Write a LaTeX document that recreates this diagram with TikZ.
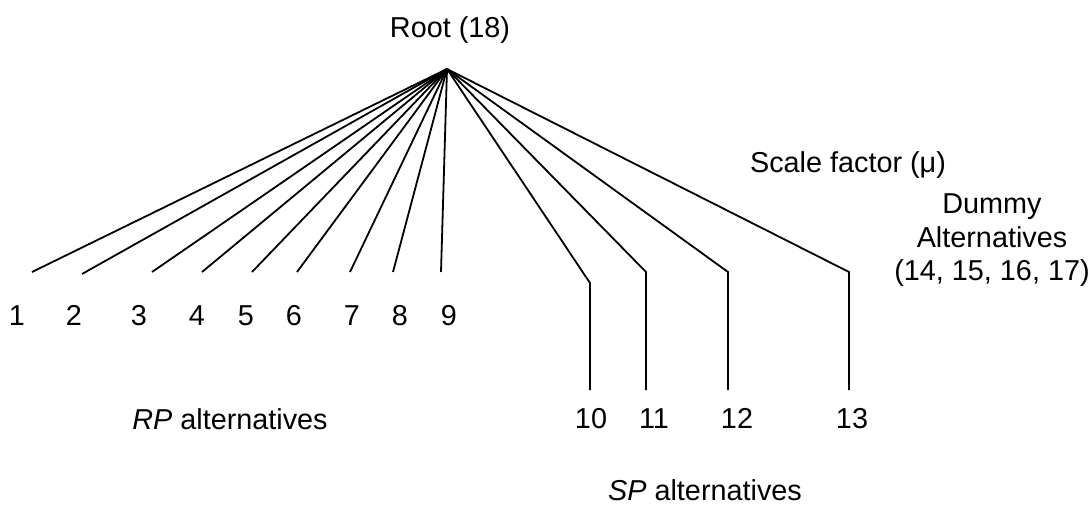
\documentclass[tikz,border=0pt]{standalone}
\usepackage{fontspec}
\setmainfont{Liberation Sans}
\begin{document}
\begin{tikzpicture}[x=1pt,y=-1pt,
  lbl/.style={anchor=base,inner sep=0pt,font=\fontsize{28.8}{33}\selectfont},
  edge/.style={line width=1.8pt,line join=miter}]
\useasboundingbox (0,0) rectangle (1089,505);
% root
\coordinate (apex) at (447,69);
\node[lbl] (root) at (450,38) {Root (18)};
% RP leaf ends
\coordinate (e1) at (32,272);
\coordinate (e2) at (82,274);
\coordinate (e3) at (152,272);
\coordinate (e4) at (202,272);
\coordinate (e5) at (252,272);
\coordinate (e6) at (297,272);
\coordinate (e7) at (350,272);
\coordinate (e8) at (393,272);
\coordinate (e9) at (441,272);
\foreach \i in {1,...,9} \draw[edge] (apex) -- (e\i);
% RP labels
\node[lbl] (l1) at (17,325) {1};
\node[lbl] (l2) at (74,325) {2};
\node[lbl] (l3) at (139,325) {3};
\node[lbl] (l4) at (197,325) {4};
\node[lbl] (l5) at (246,325) {5};
\node[lbl] (l6) at (294,325) {6};
\node[lbl] (l7) at (352,325) {7};
\node[lbl] (l8) at (400,325) {8};
\node[lbl] (l9) at (449,325) {9};
% SP branches
\coordinate (b10) at (590,283);
\coordinate (e10) at (590,390);
\coordinate (b11) at (646,272);
\coordinate (e11) at (646,390);
\coordinate (b12) at (728,272);
\coordinate (e12) at (728,390);
\coordinate (b13) at (849,272);
\coordinate (e13) at (849,390);
\foreach \i in {10,...,13} \draw[edge] (apex) -- (b\i) -- (e\i);
\node[lbl] (l10) at (591,428) {10};
\node[lbl] (l11) at (654,428) {11};
\node[lbl] (l12) at (737,428) {12};
\node[lbl] (l13) at (852,428) {13};
% group labels
\node[lbl] (rp) at (230,429) {\textit{RP} alternatives};
\node[lbl] (sp) at (705,500) {\textit{SP} alternatives};
\node[lbl] (scale) at (848,173) {Scale factor (μ)};
\node[lbl] (dum1) at (992,214) {Dummy};
\node[lbl] (dum2) at (992,247) {Alternatives};
\node[lbl] (dum3) at (992,280) {(14, 15, 16, 17)};
\end{tikzpicture}
\end{document}
